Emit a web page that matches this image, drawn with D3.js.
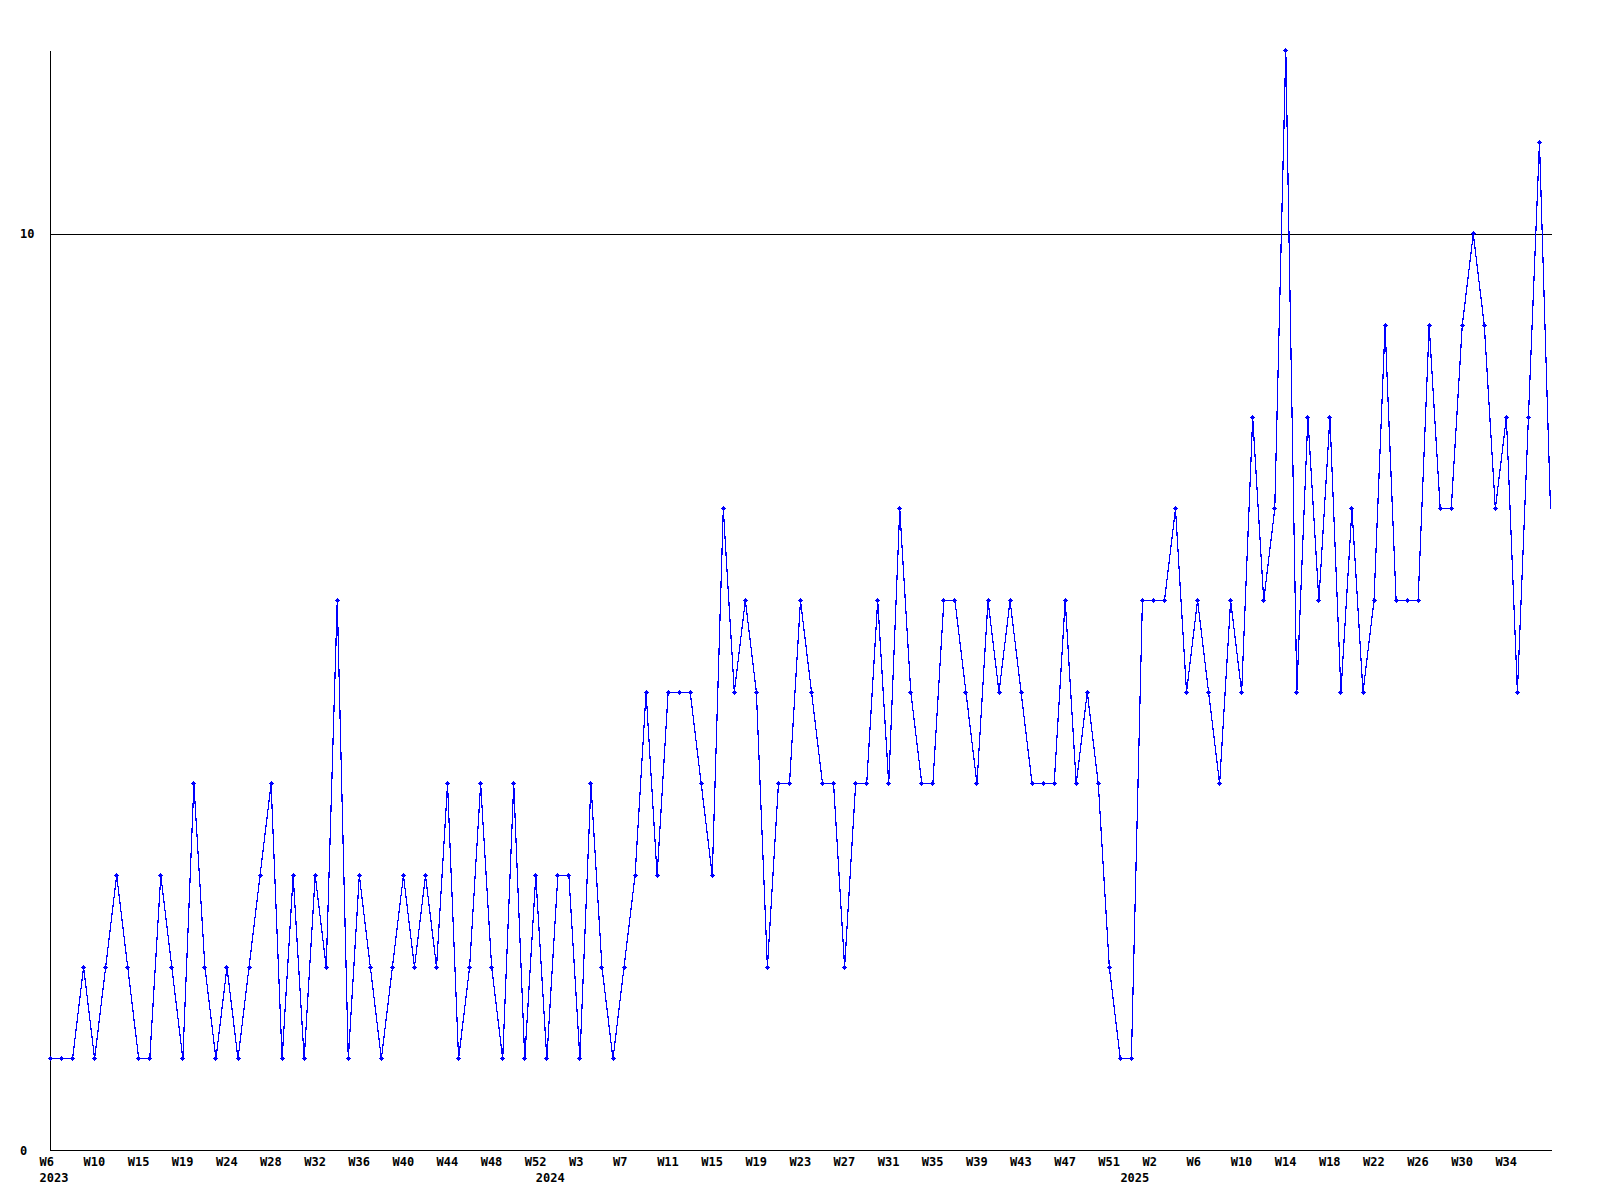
<!DOCTYPE html>
<html>
<head>
<meta charset="utf-8">
<script src="https://cdn.jsdelivr.net/npm/d3@7"></script>
<style>
  html, body { margin: 0; padding: 0; background: #ffffff; }
  svg { display: block; }
  text { font-family: "DejaVu Sans Mono", "Liberation Mono", monospace; font-weight: bold; font-size: 12px; fill: #000; }
</style>
</head>
<body>
<svg id="chart" width="1600" height="1200"></svg>
<script>
// ---- data ----
const categories = [
  "2023-W06","2023-W07","2023-W08","2023-W09","2023-W10","2023-W11","2023-W12","2023-W14","2023-W15","2023-W16",
  "2023-W17","2023-W18","2023-W19","2023-W20","2023-W21","2023-W22","2023-W24","2023-W25","2023-W26","2023-W27",
  "2023-W28","2023-W29","2023-W30","2023-W31","2023-W32","2023-W33","2023-W34","2023-W35","2023-W36","2023-W37",
  "2023-W38","2023-W39","2023-W40","2023-W41","2023-W42","2023-W43","2023-W44","2023-W45","2023-W46","2023-W47",
  "2023-W48","2023-W49","2023-W50","2023-W51","2023-W52",
  "2024-W00","2024-W01","2024-W02","2024-W03","2024-W04","2024-W05","2024-W06","2024-W07","2024-W08","2024-W09",
  "2024-W10","2024-W11","2024-W12","2024-W13","2024-W14","2024-W15","2024-W16","2024-W17","2024-W18","2024-W19",
  "2024-W20","2024-W21","2024-W22","2024-W23","2024-W24","2024-W25","2024-W26","2024-W27","2024-W28","2024-W29",
  "2024-W30","2024-W31","2024-W32","2024-W33","2024-W34","2024-W35","2024-W36","2024-W37","2024-W38","2024-W39",
  "2024-W40","2024-W41","2024-W42","2024-W43","2024-W44","2024-W45","2024-W46","2024-W47","2024-W48","2024-W49",
  "2024-W50","2024-W51","2024-W52",
  "2025-W00","2025-W01","2025-W02","2025-W03","2025-W04","2025-W05","2025-W06","2025-W07","2025-W08","2025-W09",
  "2025-W10","2025-W11","2025-W12","2025-W13","2025-W14","2025-W15","2025-W16","2025-W17","2025-W18","2025-W19",
  "2025-W20","2025-W21","2025-W22","2025-W23","2025-W24","2025-W25","2025-W26","2025-W27","2025-W28","2025-W29",
  "2025-W30","2025-W31","2025-W32","2025-W33","2025-W34","2025-W35","2025-W36","2025-W37","2025-W38"
];

const values = [
  1,1,1,2,1,2,3,2,1,1,3,2,1,4,2,1,2,1,2,3,4,1,3,1,3,2,6,
  1,3,2,1,2,3,2,3,2,4,1,2,4,2,1,4,1,3,1,3,3,1,4,2,1,2,
  3,5,3,5,5,5,4,3,7,5,6,5,2,4,4,6,5,4,4,2,4,4,6,4,7,5,4,
  4,6,6,5,4,6,5,6,5,4,4,4,6,4,5,4,2,1,1,6,6,6,7,5,6,5,
  4,6,5,8,6,7,12,5,8,6,8,5,7,5,6,9,6,6,6,9,7,7,9,10,9,7,8,5,8,11,7
];

const tickCategories = [
  "2023-W06","2023-W10","2023-W15","2023-W19","2023-W24","2023-W28","2023-W32","2023-W36","2023-W40","2023-W44",
  "2023-W48","2023-W52","2024-W03","2024-W07","2024-W11","2024-W15","2024-W19","2024-W23","2024-W27","2024-W31",
  "2024-W35","2024-W39","2024-W43","2024-W47","2024-W51","2025-W02","2025-W06","2025-W10","2025-W14","2025-W18",
  "2025-W22","2025-W26","2025-W30","2025-W34"
];
const tickLabels = [
  "W6","W10","W15","W19","W24","W28","W32","W36","W40","W44",
  "W48","W52","W3","W7","W11","W15","W19","W23","W27","W31",
  "W35","W39","W43","W47","W51","W2","W6","W10","W14","W18",
  "W22","W26","W30","W34"
];
const yearCategories = ["2023-W06","2024-W00","2025-W00"];
const yearLabels = ["2023","2024","2025"];
const yTicks = [0, 10];
const yMax = 12;

// ---- layout ----
const svg = d3.select("#chart");
const pLeft = 50.5, pRight = 1550.5, pTop = 50.5, pBottom = 1150.5;

const x = d3.scalePoint().domain(categories).range([pLeft, pRight]);
const y = d3.scaleLinear().domain([0, yMax]).range([pBottom, pTop]);

// grid line(s) for y ticks above 0
svg.append("g").selectAll("line")
  .data(yTicks.filter(d => d > 0))
  .join("line")
  .attr("x1", pLeft).attr("x2", pRight + 1)
  .attr("y1", d => Math.round(y(d)) + 0.5).attr("y2", d => Math.round(y(d)) + 0.5)
  .attr("stroke", "#000").attr("stroke-width", 1).attr("shape-rendering", "crispEdges");

// axes
svg.append("line").attr("x1", pLeft).attr("x2", pLeft).attr("y1", pTop).attr("y2", pBottom)
  .attr("stroke", "#000").attr("shape-rendering", "crispEdges");
svg.append("line").attr("x1", pLeft).attr("x2", pRight + 1).attr("y1", pBottom).attr("y2", pBottom)
  .attr("stroke", "#000").attr("shape-rendering", "crispEdges");

// y labels
svg.append("g").selectAll("text")
  .data(yTicks)
  .join("text")
  .attr("x", 20)
  .attr("y", d => y(d) + 4.5)
  .attr("text-anchor", "start")
  .text(d => d);

// x week labels
svg.append("g").selectAll("text")
  .data(tickCategories)
  .join("text")
  .attr("x", d => x(d) - 11)
  .attr("y", 1166)
  .attr("text-anchor", "start")
  .text((d, i) => tickLabels[i]);

// year labels
svg.append("g").selectAll("text")
  .data(yearCategories)
  .join("text")
  .attr("x", d => x(d) - 11)
  .attr("y", 1182)
  .attr("text-anchor", "start")
  .text((d, i) => yearLabels[i]);

// line
const pts = categories.map((c, i) => ({ c, v: values[i] }));
const line = d3.line().x(d => x(d.c)).y(d => y(d.v));
svg.append("path")
  .datum(pts)
  .attr("d", line)
  .attr("fill", "none")
  .attr("stroke", "#0000ff")
  .attr("stroke-width", 1.2)
  .attr("shape-rendering", "crispEdges");

// markers (clipped to plot interior)
svg.append("clipPath").attr("id", "mclip")
  .append("rect").attr("x", 40).attr("y", 0).attr("width", pRight - 3 - 40).attr("height", 1200);

const mk = svg.append("g").attr("clip-path", "url(#mclip)").attr("fill", "#0000ff");
const markerPath = (cx, cy) => {
  cx = Math.round(cx - 0.5); cy = Math.round(cy - 0.5);
  return `M${cx-2},${cy} h5 v1 h-5 Z` +
         `M${cx},${cy-2} h1 v5 h-1 Z` +
         `M${cx-1},${cy-1} h3 v3 h-3 Z`;
};
mk.selectAll("path")
  .data(pts)
  .join("path")
  .attr("shape-rendering", "crispEdges")
  .attr("d", d => markerPath(x(d.c), y(d.v)));
</script>
</body>
</html>
